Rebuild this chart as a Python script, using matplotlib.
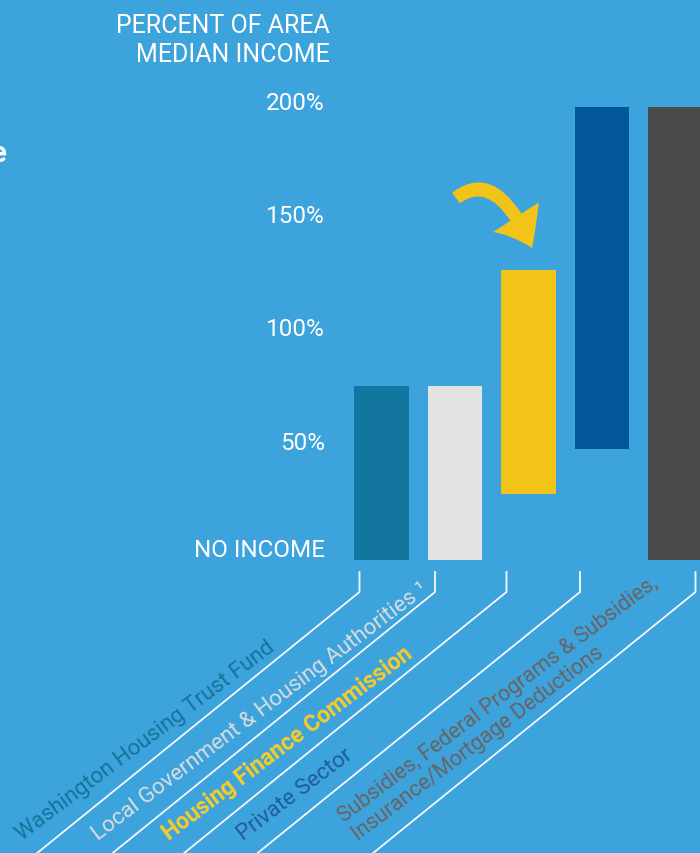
import matplotlib
matplotlib.use("Agg")
import matplotlib.pyplot as plt
import numpy as np
from matplotlib import transforms
from matplotlib.lines import Line2D
from matplotlib.patches import FancyArrowPatch, ArrowStyle
from matplotlib.path import Path

# ---------------- data ----------------
categories = [
    "Washington Housing Trust Fund",
    "Local Government & Housing Authorities \u00b9",
    "Housing Finance Commission",
    "Private Sector",
    "Subsidies, Federal Programs & Subsidies,\nInsurance/Mortgage Deductions",
]
ami_low = [0, 0, 29, 49, 0]
ami_high = [77, 77, 128, 200, 200]
tick_values = [0, 50, 100, 150, 200]
tick_labels = ["NO INCOME", "50%", "100%", "150%", "200%"]
axis_title = ["PERCENT OF AREA", "MEDIAN INCOME"]

# ---------------- style ----------------
BG = "#3da3dc"
bar_colors = ["#13769e", "#e3e3e3", "#f2c318", "#02569a", "#484a4a"]
label_colors = ["#17739b", "#d9dde0", "#f5cd2a", "#1f5c9c", "#6a6363"]
label_weights = ["normal", "normal", "bold", "normal", "normal"]
label_sizes = [16, 16, 16.5, 16, 15.5]
leader_offset_px = [-22, -20, -22, -22, 20]
FONT = ["Roboto", "DejaVu Sans"]
plt.rcParams["font.family"] = FONT

W, H = 700, 854
fig = plt.figure(figsize=(W / 100, H / 100), dpi=100)
fig.patch.set_facecolor(BG)


def frac(px, py):
    """pixel (top-left origin) -> figure fraction"""
    return px / W, 1 - py / H


ax = fig.add_axes([344.75 / W, 1 - 561 / H, 367.5 / W, 453 / H])
ax.set_facecolor("none")
x = np.arange(len(categories))
heights = np.subtract(ami_high, ami_low)
ax.bar(x, heights, bottom=ami_low, width=0.748, color=bar_colors, linewidth=0)
ax.set_xlim(-0.5, len(categories) - 0.5)
ax.set_ylim(0, 200)
for s in ax.spines.values():
    s.set_visible(False)
ax.set_xticks([])
ax.set_yticks([])

# y tick labels
for v, lab in zip(tick_values, tick_labels):
    dy = 4 if v == 0 else -2
    tr = transforms.offset_copy(ax.get_yaxis_transform(), fig=fig, x=-20, y=dy, units="dots")
    ax.text(0, v, lab, transform=tr, ha="right", va="baseline", color="white",
            fontsize=17.5, clip_on=False)

# axis title
for k, line in enumerate(axis_title):
    fx, fy = frac(330, 33 + 29 * k)
    fig.text(fx, fy, line, ha="right", va="baseline", color="white", fontsize=18)

# cut-off title fragment at the left edge
fx, fy = frac(7, 162)
fig.text(fx, fy, "e", ha="right", va="baseline", color="white", fontsize=21, fontweight="bold")

# leader lines and rotated category labels
line_ang = np.deg2rad(39)
u = np.array([-np.cos(line_ang), np.sin(line_ang)])      # down-left (pixel coords, y down)
n = np.array([-np.sin(line_ang), -np.cos(line_ang)])     # up-left normal
for i, cat in enumerate(categories):
    disp = ax.transData.transform((x[i], 0))
    cx = disp[0] + leader_offset_px[i]
    top = np.array([cx, 573.0])
    corner = np.array([cx, 593.0])
    end = corner + u * 420
    pts = [top, corner, end]
    fxs, fys = zip(*[frac(p[0], p[1]) for p in pts])
    fig.add_artist(Line2D(fxs, fys, transform=fig.transFigure, color="white",
                          linewidth=1.3, alpha=0.95))
    lines = cat.split("\n")
    for k, ln in enumerate(reversed(lines)):
        p = corner + u * 418 + n * (20 + 22 * k)
        fx, fy = frac(p[0], p[1])
        fig.text(fx, fy, ln, rotation=37, rotation_mode="anchor", ha="left", va="baseline",
                 color=label_colors[i], fontsize=label_sizes[i], fontweight=label_weights[i])

# curved arrow pointing at the Housing Finance Commission bar
verts = [frac(456, 199), frac(497, 168), frac(532, 249)]
arrow = FancyArrowPatch(path=Path(verts, [Path.MOVETO, Path.CURVE3, Path.CURVE3]),
                        arrowstyle=ArrowStyle.Simple(head_length=25, head_width=39, tail_width=9.5),
                        mutation_scale=1, color=bar_colors[2], linewidth=0,
                        transform=fig.transFigure)
fig.add_artist(arrow)

fig.savefig("out.png", dpi=100, facecolor=BG)
